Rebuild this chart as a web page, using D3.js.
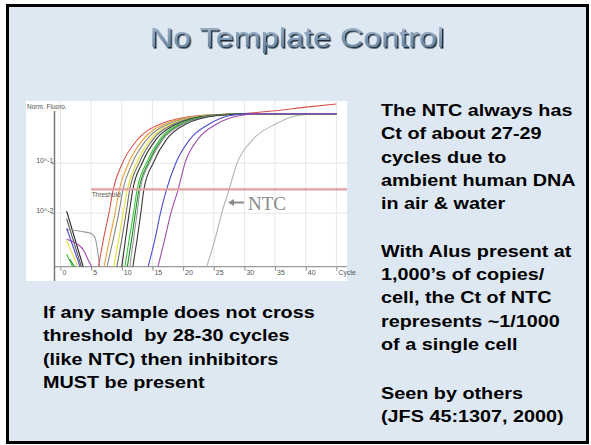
<!DOCTYPE html>
<html>
<head>
<meta charset="utf-8">
<script src="https://cdn.jsdelivr.net/npm/d3@7"></script>
<style>
  html, body { margin: 0; padding: 0; background: #ffffff; }
  svg { display: block; }
</style>
</head>
<body>
<div id="slide"></div>
<script>
// axis ticks
var cycleTicks = [0, 5, 10, 15, 20, 25, 30, 35, 40, 45];
var cycleLabels = ["0", "5", "10", "15", "20", "25", "30", "35", "40", "Cycle"];
var fluoroTicks = [0.1, 0.01];
var fluoroLabels = ["10^-1", "10^-2"];
var threshold = 0.03;

// fluorescence levels, and the cycle where each curve reaches them
var levels = [0.00085, 0.003, 0.01, 0.03, 0.1, 0.3, 0.6, 0.9, 0.97];
var redCycles     = [6.2, 7.0, 7.9, 8.6, 10.1, 12.6, 16.2, 22.8, 29.3];
var orangeCycles  = [7.1, 8.0, 8.9, 9.6, 11.1, 13.5, 16.9, 23.2, 29.5];
var gray1Cycles   = [7.6, 8.6, 9.5, 10.2, 11.7, 14.1, 17.5, 23.6, 29.8];
var yellowCycles  = [8.7, 9.5, 10.2, 10.9, 12.4, 14.7, 18.0, 24.0, 30.0];
var gray2Cycles   = [9.2, 10.0, 10.7, 11.3, 12.8, 15.1, 18.4, 24.3, 30.2];
var black1Cycles  = [10.0, 10.6, 11.2, 11.8, 13.3, 15.6, 18.9, 24.6, 30.4];
var greenCycles   = [10.5, 11.2, 11.9, 12.5, 14.0, 16.2, 19.4, 25.0, 30.6];
var dkgreenCycles = [10.9, 11.6, 12.2, 12.8, 14.3, 16.5, 19.7, 25.2, 30.7];
var gray3Cycles   = [11.3, 11.9, 12.5, 13.0, 14.5, 16.7, 19.9, 25.3, 30.8];
var black2Cycles  = [11.8, 12.5, 13.1, 13.6, 15.1, 17.3, 20.4, 25.7, 31.0];
var blueCycles    = [14.3, 15.4, 16.3, 17.3, 18.8, 21.1, 24.2, 27.7, 30.9];
var purpleCycles  = [15.9, 17.0, 18.0, 19.2, 20.3, 22.4, 25.4, 29.3, 32.2];
var ntcCycles     = [23.85, 25.2, 26.3, 27.5, 28.8, 31.4, 35.0, 38.7, 42.3];
var redTail = [[35, 1.12], [40, 1.32], [45, 1.53]];
var plateauEnd = [45, 0.97];

var sampleCycles = [redCycles, orangeCycles, gray1Cycles, yellowCycles, gray2Cycles, black1Cycles,
  greenCycles, dkgreenCycles, gray3Cycles, black2Cycles, blueCycles, purpleCycles];
var sampleColors = ["#d9524f", "#f0a038", "#858585", "#e6df3a", "#6e6e6e", "#2e2e2e",
  "#3cc43c", "#1d8c2a", "#9a9a9a", "#3a3a3a", "#4b4bd2", "#a04caa"];

// early baseline noise, [cycle, fluorescence]
var noiseBlack = [[1.0, 0.011], [3.7, 0.00085]];
var noiseDark = [[1.0, 0.0078], [3.4, 0.00085]];
var noiseGray = [[1.0, 0.0047], [3.5, 0.0043], [5.0, 0.0039], [5.6, 0.0033], [6.4, 0.00085]];
var noisePurple = [[1.0, 0.003], [2.5, 0.0025], [3.8, 0.0018], [4.6, 0.0011], [5.1, 0.00085]];
var noiseBlue = [[1.0, 0.005], [3.2, 0.00085]];
var noiseYellow = [[1.0, 0.0028], [2.85, 0.00085]];
var noiseGreen = [[1.0, 0.0015], [2.0, 0.00085]];
var noiseDkGreen = [[1.5, 0.0012], [2.3, 0.00085]];
var noiseLines = [noiseBlack, noiseDark, noiseGray, noisePurple, noiseBlue, noiseYellow, noiseGreen, noiseDkGreen];
var noiseColors = ["#222222", "#555555", "#9a9a9a", "#a04caa", "#4b4bd2", "#e6df3a", "#3cc43c", "#1d8c2a"];

// slide text
var title = "No Template Control";
var rightLines1 = ["The NTC always has", "Ct of about 27-29", "cycles due to", "ambient human DNA", "in air & water"];
var rightLines2 = ["With Alus present at", "1,000\u2019s of copies/", "cell, the Ct of NTC", "represents ~1/1000", "of a single cell"];
var rightLines3 = ["Seen by others", "(JFS 45:1307, 2000)"];
var leftLines = ["If any sample does not cross", "threshold  by 28-30 cycles", "(like NTC) then inhibitors", "MUST be present"];

var W = 591, H = 445;
var svg = d3.select("#slide").append("svg")
    .attr("width", W)
    .attr("height", H);

var defs = svg.append("defs");
var grad = defs.append("linearGradient")
    .attr("id", "titleGrad")
    .attr("x1", 0).attr("y1", 0).attr("x2", 0).attr("y2", 1);
grad.append("stop").attr("offset", "0%").attr("stop-color", "#a7bbd0");
grad.append("stop").attr("offset", "100%").attr("stop-color", "#5f7c99");
defs.append("filter")
    .attr("id", "titleShadow")
    .attr("x", "-5%").attr("y", "-20%").attr("width", "110%").attr("height", "140%")
    .append("feDropShadow")
    .attr("dx", 1.2).attr("dy", 1.6)
    .attr("stdDeviation", 0.3)
    .attr("flood-color", "#1f2b38")
    .attr("flood-opacity", 1);

// slide background + frame
svg.append("rect")
    .attr("x", 7.5).attr("y", 5.5)
    .attr("width", 580).attr("height", 437)
    .attr("fill", "#dee8f3")
    .attr("stroke", "#000")
    .attr("stroke-width", 3);

// title
svg.append("text")
    .attr("transform", "translate(297,46.5) scale(1.2,1)")
    .attr("text-anchor", "middle")
    .attr("font-family", "Liberation Sans, Arial, sans-serif")
    .attr("font-size", 27)
    .attr("fill", "url(#titleGrad)")
    .attr("filter", "url(#titleShadow)")
    .text(title);

// text blocks
function textBlock(lines, x, y0, step) {
    var g = svg.append("g").attr("transform", "translate(" + x + "," + y0 + ") scale(1.2,1)");
    g.selectAll("text")
        .data(lines)
        .enter()
        .append("text")
        .attr("x", 0)
        .attr("y", function (d, i) { return i * step; })
        .attr("font-family", "Liberation Sans, Arial, sans-serif")
        .attr("font-weight", "bold")
        .attr("font-size", 16.5)
        .attr("fill", "#000")
        .style("white-space", "pre")
        .text(function (d) { return d; });
}
textBlock(rightLines1, 381, 116, 23.3);
textBlock(rightLines2, 381, 256.7, 23.3);
textBlock(rightLines3, 381, 398.5, 23.3);
textBlock(leftLines, 43, 318, 23.5);

// chart image panel
var panel = {x: 26, y: 101, w: 321, h: 180};
svg.append("rect")
    .attr("x", panel.x).attr("y", panel.y)
    .attr("width", panel.w).attr("height", panel.h)
    .attr("fill", "#ffffff");

var xscale = d3.scaleLinear().domain([0, 45]).range([60.5, 336.4]);
var yscale = d3.scaleLog().domain([0.00085, 1.12]).range([266.7, 110.7]);
var axisX = 54.5;
var plotRight = panel.x + panel.w;

defs.append("clipPath").attr("id", "plotClip")
    .append("rect")
    .attr("x", axisX).attr("y", panel.y)
    .attr("width", plotRight - axisX).attr("height", yscale(0.00085) - panel.y + 0.5);

// grid
svg.append("g")
    .selectAll("line")
    .data(cycleTicks)
    .enter()
    .append("line")
    .attr("x1", function (d) { return xscale(d); })
    .attr("x2", function (d) { return xscale(d); })
    .attr("y1", panel.y)
    .attr("y2", yscale(0.00085))
    .attr("stroke", "#e8e8e8")
    .attr("stroke-width", 1);
svg.append("g")
    .selectAll("line")
    .data(fluoroTicks)
    .enter()
    .append("line")
    .attr("x1", axisX)
    .attr("x2", plotRight)
    .attr("y1", function (d) { return yscale(d); })
    .attr("y2", function (d) { return yscale(d); })
    .attr("stroke", "#e6e6e6")
    .attr("stroke-width", 1);

// axes
var xaxis = d3.axisBottom(xscale)
    .tickValues(cycleTicks)
    .tickSize(4)
    .tickFormat(function (d, i) { return cycleLabels[i]; });
var gx = svg.append("g")
    .attr("transform", "translate(0," + yscale(0.00085) + ")")
    .call(xaxis);
gx.select(".domain").remove();
gx.selectAll(".tick line").attr("stroke", "#888");
gx.selectAll(".tick text")
    .attr("x", 1.5)
    .attr("y", 3)
    .attr("dy", "0.71em")
    .attr("text-anchor", "start")
    .attr("font-family", "Liberation Sans, Arial, sans-serif")
    .attr("font-size", 7)
    .attr("fill", "#555");
svg.append("line")
    .attr("x1", axisX).attr("x2", plotRight)
    .attr("y1", yscale(0.00085)).attr("y2", yscale(0.00085))
    .attr("stroke", "#9a9a9a").attr("stroke-width", 1.2);

var yaxis = d3.axisLeft(yscale)
    .tickValues(fluoroTicks)
    .tickSize(3)
    .tickFormat(function (d, i) { return fluoroLabels[i]; });
var gy = svg.append("g")
    .attr("transform", "translate(" + axisX + ",0)")
    .call(yaxis);
gy.select(".domain").remove();
gy.selectAll(".tick line").attr("stroke", "#888");
gy.selectAll(".tick text")
    .attr("x", -1)
    .attr("dy", "-0.15em")
    .attr("font-family", "Liberation Sans, Arial, sans-serif")
    .attr("font-size", 7)
    .attr("fill", "#555");
svg.append("line")
    .attr("x1", axisX).attr("x2", axisX)
    .attr("y1", 111).attr("y2", panel.y + panel.h)
    .attr("stroke", "#7a7a7a").attr("stroke-width", 1.5);

svg.append("text")
    .attr("x", 27).attr("y", 108.5)
    .attr("font-family", "Liberation Sans, Arial, sans-serif")
    .attr("font-size", 6.5)
    .attr("fill", "#555")
    .text("Norm. Fluoro.");

// curves
var line = d3.line()
    .x(function (d) { return xscale(d[0]); })
    .y(function (d) { return yscale(d[1]); })
    .curve(d3.curveMonotoneX);

var plot = svg.append("g").attr("clip-path", "url(#plotClip)");

function curvePoints(cyc, tail) {
    var pts = cyc.map(function (c, i) { return [c, levels[i]]; });
    return pts.concat(tail);
}

plot.selectAll(".noise")
    .data(noiseLines)
    .enter()
    .append("path")
    .attr("class", "noise")
    .attr("d", line)
    .attr("fill", "none")
    .attr("stroke", function (d, i) { return noiseColors[i]; })
    .attr("stroke-width", 1.1);

plot.append("path")
    .attr("d", line(curvePoints(ntcCycles, [plateauEnd])))
    .attr("fill", "none")
    .attr("stroke", "#b4b4b4")
    .attr("stroke-width", 1.1);

plot.selectAll(".sample")
    .data(sampleCycles)
    .enter()
    .append("path")
    .attr("class", "sample")
    .attr("d", function (d, i) {
        return line(curvePoints(d, i === 0 ? redTail : [plateauEnd]));
    })
    .attr("fill", "none")
    .attr("stroke", function (d, i) { return sampleColors[i]; })
    .attr("stroke-width", 1.1);

// threshold
svg.append("line")
    .attr("x1", xscale(5)).attr("x2", plotRight)
    .attr("y1", yscale(threshold)).attr("y2", yscale(threshold))
    .attr("stroke", "#dfa0a0")
    .attr("stroke-width", 2.2);
svg.append("text")
    .attr("x", xscale(5) + 0.5).attr("y", yscale(threshold) + 7.5)
    .attr("font-family", "Liberation Sans, Arial, sans-serif")
    .attr("font-size", 6.5)
    .attr("fill", "#555")
    .text("Threshold");

// NTC annotation
var ay = 202.5;
svg.append("line")
    .attr("x1", 232).attr("x2", 244)
    .attr("y1", ay).attr("y2", ay)
    .attr("stroke", "#8a8a8a").attr("stroke-width", 2);
svg.append("path")
    .attr("d", "M228," + ay + "L234," + (ay - 3.5) + "L234," + (ay + 3.5) + "Z")
    .attr("fill", "#8a8a8a");
svg.append("text")
    .attr("x", 248).attr("y", 209.5)
    .attr("font-family", "Liberation Serif, Times New Roman, serif")
    .attr("font-size", 19)
    .attr("fill", "#8a8a8a")
    .text("NTC");
</script>
</body>
</html>
